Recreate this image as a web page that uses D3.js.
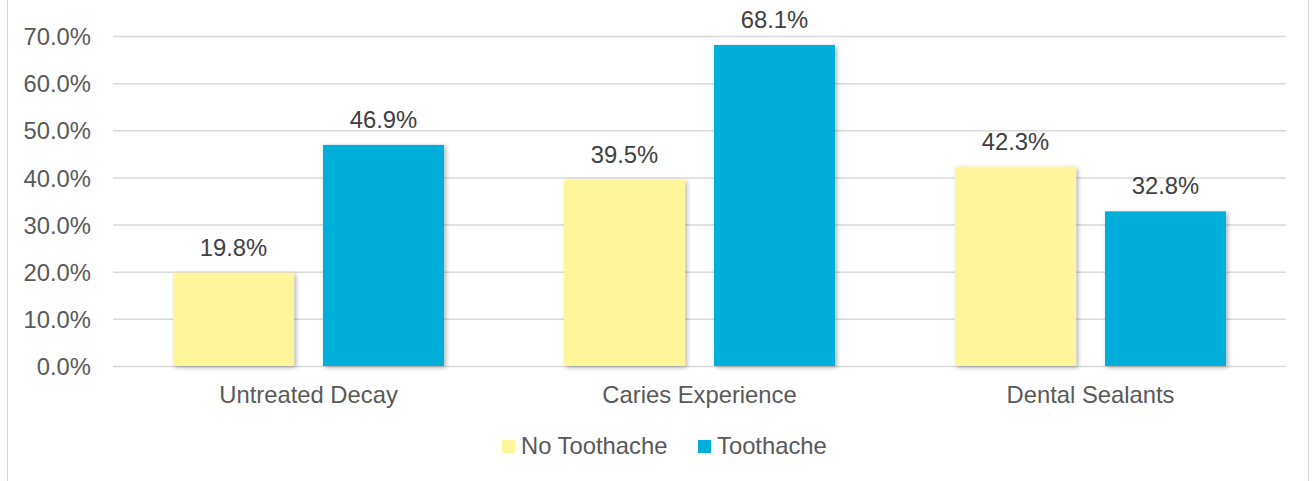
<!DOCTYPE html>
<html><head><meta charset="utf-8">
<script src="https://cdn.jsdelivr.net/npm/d3@7"></script>
<style>
html,body{margin:0;padding:0;background:#fff;}
svg{display:block;font-family:"Liberation Sans",Arial,sans-serif;}
</style></head>
<body><svg id="c" width="1315" height="481"></svg>
<script>
const categories = ["Untreated Decay", "Caries Experience", "Dental Sealants"];
const seriesNames = ["No Toothache", "Toothache"];
const noToothache = [19.8, 39.5, 42.3];
const toothache = [46.9, 68.1, 32.8];
const yTicks = [0, 10, 20, 30, 40, 50, 60, 70];
const colors = ["#FFF59A", "#00AEDA"];

const svg = d3.select("#c");
const defs = svg.append("defs");
const f = defs.append("filter").attr("id","sh").attr("x","-10%").attr("y","-10%").attr("width","130%").attr("height","130%");
f.append("feDropShadow").attr("dx",2).attr("dy",1.5).attr("stdDeviation",2).attr("flood-color","#000").attr("flood-opacity",0.3);

// frame
svg.append("rect").attr("x",7.5).attr("y",-5).attr("width",1301).attr("height",500)
  .attr("fill","none").attr("stroke","#d9d9d9").attr("stroke-width",1);

const plot = {left:113, right:1286, top:36, bottom:366};
const fs = "23.8px";
const x0 = d3.scaleBand().domain(categories).range([plot.left, plot.right]);
const x1 = d3.scaleBand().domain(seriesNames).range([0, x0.bandwidth()]).paddingInner(0.193).paddingOuter(0.4);
const y = d3.scaleLinear().domain([0,70]).range([plot.bottom, plot.top]);

// gridlines
const yAxis = d3.axisLeft(y).tickValues(yTicks).tickSize(-(plot.right-plot.left)).tickPadding(22)
  .tickFormat(d => d.toFixed(1) + "%");
const ga = svg.append("g").attr("transform",`translate(${plot.left},0)`).call(yAxis);
ga.select(".domain").remove();
ga.selectAll(".tick line").attr("stroke","#d9d9d9").attr("stroke-width",1.5);
ga.selectAll(".tick text").attr("fill","#595959").style("font-size",fs).attr("dy","0.36em");

// bars
const data = categories.map((c,i)=>({cat:c, vals:[{s:seriesNames[0],v:noToothache[i]},{s:seriesNames[1],v:toothache[i]}]}));
const g = svg.selectAll("g.cat").data(data).enter().append("g").attr("class","cat")
  .attr("transform",d=>`translate(${x0(d.cat)},0)`);
g.selectAll("rect").data(d=>d.vals).enter().append("rect")
  .attr("x",d=>x1(d.s)).attr("width",x1.bandwidth())
  .attr("y",d=>y(d.v)).attr("height",d=>y(0)-y(d.v))
  .attr("fill",(d,i)=>colors[i]).attr("filter","url(#sh)");
g.selectAll("text.lbl").data(d=>d.vals).enter().append("text").attr("class","lbl")
  .attr("x",d=>x1(d.s)+x1.bandwidth()/2).attr("y",d=>y(d.v)-17)
  .attr("text-anchor","middle").attr("fill","#404040").style("font-size",fs)
  .text(d=>d.v.toFixed(1)+"%");

// x axis labels
const xAxis = d3.axisBottom(x0).tickSize(0).tickPadding(20);
const gx = svg.append("g").attr("transform",`translate(0,${plot.bottom})`).call(xAxis);
gx.select(".domain").remove();
gx.selectAll(".tick text").attr("fill","#595959").style("font-size",fs);

// legend
const legX = [502, 698];
const lg = svg.selectAll("g.leg").data(seriesNames).enter().append("g").attr("class","leg")
  .attr("transform",(d,i)=>`translate(${legX[i]},440)`);
lg.append("rect").attr("width",13).attr("height",13).attr("fill",(d,i)=>colors[i]);
lg.append("text").attr("x",19).attr("y",14).attr("fill","#595959").style("font-size",fs).text(d=>d);
</script></body></html>
